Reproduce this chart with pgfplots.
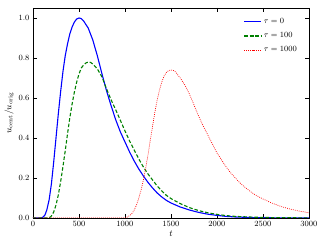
\documentclass[border=0pt]{standalone}
\usepackage{pgfplots}
\pgfplotsset{compat=1.18}
\usepackage{pgfplotstable}
\pgfplotstableread{
t v
0 0
90 0
110 0.005
130 0.015
150 0.04
175 0.09
200 0.17
225 0.28
250 0.40
275 0.52
300 0.63
325 0.73
350 0.81
375 0.87
400 0.92
425 0.955
450 0.98
475 0.995
500 1.0
525 0.997
550 0.985
600 0.95
650 0.89
700 0.81
750 0.72
800 0.635
850 0.56
900 0.49
950 0.43
1000 0.38
1050 0.33
1100 0.285
1150 0.245
1200 0.21
1250 0.178
1300 0.15
1350 0.125
1400 0.105
1450 0.088
1500 0.075
1600 0.055
1700 0.04
1800 0.028
1900 0.019
2000 0.013
2100 0.008
2200 0.005
2400 0.002
2600 0.001
3000 0
}\tauzero
\pgfplotstableread{
t v
0 0
175 0
200 0.01
225 0.03
250 0.065
275 0.115
300 0.18
325 0.255
350 0.335
375 0.42
400 0.50
425 0.57
450 0.63
475 0.68
500 0.72
525 0.75
550 0.765
575 0.775
600 0.78
625 0.778
650 0.77
700 0.745
750 0.705
800 0.645
850 0.59
900 0.54
950 0.488
1000 0.435
1050 0.385
1100 0.34
1150 0.295
1200 0.255
1250 0.22
1300 0.19
1350 0.16
1400 0.135
1450 0.113
1500 0.097
1600 0.072
1700 0.052
1800 0.037
1900 0.026
2000 0.018
2100 0.012
2200 0.008
2400 0.004
2600 0.002
3000 0.0005
}\tauhundred
\pgfplotstableread{
t v
0 0
1000 0
1025 0.005
1050 0.012
1075 0.022
1100 0.04
1125 0.065
1150 0.10
1175 0.14
1200 0.19
1225 0.25
1250 0.315
1275 0.39
1300 0.46
1325 0.53
1350 0.59
1375 0.64
1400 0.68
1425 0.71
1450 0.728
1475 0.737
1500 0.74
1525 0.738
1550 0.73
1600 0.70
1650 0.665
1700 0.62
1750 0.565
1800 0.51
1850 0.46
1900 0.415
1950 0.37
2000 0.325
2050 0.29
2100 0.255
2150 0.225
2200 0.2
2250 0.175
2300 0.155
2350 0.137
2400 0.12
2450 0.107
2500 0.095
2600 0.074
2700 0.057
2800 0.044
2900 0.034
3000 0.026
}\tauthousand
\definecolor{mplgreen}{rgb}{0,0.5,0}
\begin{document}
\begin{tikzpicture}
\begin{axis}[
  scale only axis, width=276pt, height=210pt,
  xmin=0, xmax=3000, ymin=0, ymax=1.05,
  xtick={0,500,1000,1500,2000,2500,3000},
  ytick={0,0.2,0.4,0.6,0.8,1.0},
  yticklabel style={/pgf/number format/.cd,fixed,fixed zerofill,precision=1},
  scaled x ticks=false,
  xticklabel style={/pgf/number format/.cd,1000 sep={}},
  tick align=inside, major tick length=4pt,
  tick style={black, line width=0.5pt},
  ticklabel style={font=\fontsize{8}{9}\selectfont},
  xlabel={$t$}, ylabel={$u_{\rm cent}/u_{\rm orig}$},
  label style={font=\fontsize{9}{10}\selectfont},
  xlabel style={yshift=3pt},
  ylabel style={yshift=-2pt},
  axis line style={line width=0.8pt},
  legend style={draw=none, fill=none, at={(rel axis cs:0.975,0.97)}, anchor=north east,
    font=\fontsize{8}{9}\selectfont, row sep=3.5pt},
  legend cell align=left,
]
\addplot[color=blue, line width=1.1pt] table[x=t,y=v] {\tauzero};
\addlegendentry{$\tau=0$}
\addplot[color=mplgreen, line width=1.1pt, dash pattern=on 3.5pt off 2pt] table[x=t,y=v] {\tauhundred};
\addlegendentry{$\tau=100$}
\addplot[color=red, line width=0.7pt, dash pattern=on 0.8pt off 1.2pt] table[x=t,y=v] {\tauthousand};
\addlegendentry{$\tau=1000$}
\end{axis}
\path ([shift={(-33pt,-27pt)}]current axis.south west) rectangle ([shift={(16pt,8pt)}]current axis.north east);
\end{tikzpicture}
\end{document}
